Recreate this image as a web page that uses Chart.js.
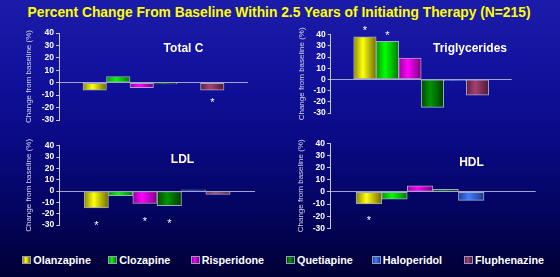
<!DOCTYPE html>
<html><head><meta charset="utf-8">
<script src="https://cdn.jsdelivr.net/npm/chart.js@4"></script>
<style>
html,body{margin:0;padding:0;}
body{width:560px;height:277px;overflow:hidden;position:relative;font-family:"Liberation Sans",Arial,sans-serif;
background:linear-gradient(to bottom,#1c1caa 0%,#12129e 25%,#0a0a86 50%,#040462 75%,#000036 100%);}
.panel{position:absolute;}
.lbl{position:absolute;transform:translate(-50%,-50%);white-space:nowrap;line-height:1;}
.ptitle{color:#ffffff;font-weight:bold;font-size:12px;}
.leg{position:absolute;top:255px;height:9px;display:flex;align-items:center;color:#ffffff;font-weight:bold;font-size:10.8px;white-space:nowrap;}
.leg .box{width:9px;height:8px;margin-right:2px;box-sizing:border-box;border:1px solid #9a9ab8;}
</style></head>
<body>
<div class="lbl" style="left:279px;top:13px;color:#ffff00;font-weight:bold;font-size:13.8px">Percent Change From Baseline Within 2.5 Years of Initiating Therapy (N=215)</div>

<div class="panel" style="left:0;top:20px;width:280px;height:115px"><canvas id="c1" width="280" height="115"></canvas></div>
<div class="panel" style="left:280px;top:20px;width:280px;height:115px"><canvas id="c2" width="280" height="115"></canvas></div>
<div class="panel" style="left:0;top:135px;width:280px;height:110px"><canvas id="c3" width="280" height="110"></canvas></div>
<div class="panel" style="left:280px;top:135px;width:280px;height:110px"><canvas id="c4" width="280" height="110"></canvas></div>

<div class="lbl ptitle" style="left:183.5px;top:48px">Total C</div>
<div class="lbl ptitle" style="left:470px;top:48px">Triglycerides</div>
<div class="lbl ptitle" style="left:182.5px;top:159px">LDL</div>
<div class="lbl ptitle" style="left:471.5px;top:162px">HDL</div>

<div id="legend"></div>

<script>
// ---- data ----
const drugs = ['Olanzapine', 'Clozapine', 'Risperidone', 'Quetiapine', 'Haloperidol', 'Fluphenazine'];
const yTicks = [-30, -20, -10, 0, 10, 20, 30, 40];
const totalC = [-6, 5, -4, -1, 0, -6];
const triglycerides = [38, 34, 19, -25, -1, -14];
const ldl = [-15, -4, -11, -13, 1, -3];
const hdl = [-10, -6, 5, 2, -7, 0];
// significance markers (*) per drug
const totalCSig = [0, 0, 0, 0, 0, 1];
const triglyceridesSig = [1, 1, 0, 0, 0, 0];
const ldlSig = [1, 0, 1, 1, 0, 0];
const hdlSig = [1, 0, 0, 0, 0, 0];

// ---- styles ----
const drugColors = [
  ['#8a8a00', '#ffff10', '#6e6e00'],
  ['#009a00', '#00ff00', '#007a00'],
  ['#9a009a', '#ff00ff', '#7a007a'],
  ['#004a00', '#009400', '#003e00'],
  ['#22409c', '#3c7cff', '#1e3a8e'],
  ['#5e1e40', '#a44272', '#4e1836']
];
const FONT = "'Liberation Sans', Arial, sans-serif";
Chart.defaults.font.family = FONT;

const legendPos = [22.3, 108.3, 190.7, 286, 371.7, 464];
const legend = document.getElementById('legend');
drugs.forEach((d, i) => {
  const c = drugColors[i];
  const it = document.createElement('div');
  it.className = 'leg';
  it.style.left = legendPos[i] + 'px';
  it.innerHTML = '<span class="box" style="background:linear-gradient(to right,' + c[0] + ',' + c[1] + ' 40%,' + c[2] + ')"></span><span>' + d + '</span>';
  legend.appendChild(it);
});

function barFill(c) {
  const cols = drugColors[c.dataIndex] || drugColors[0];
  const chart = c.chart, xs = chart.scales.x;
  if (!xs || c.dataIndex === undefined) return cols[1];
  const cx = xs.getPixelForValue(c.dataIndex);
  const w = Math.abs(xs.getPixelForValue(1) - xs.getPixelForValue(0));
  if (!isFinite(cx) || !isFinite(w)) return cols[1];
  const g = chart.ctx.createLinearGradient(cx - w / 2, 0, cx + w / 2, 0);
  g.addColorStop(0, cols[0]);
  g.addColorStop(0.4, cols[1]);
  g.addColorStop(1, cols[2]);
  return g;
}

const astPlugin = {
  id: 'ast',
  afterDatasetsDraw(chart, args, o) {
    const meta = chart.getDatasetMeta(0);
    const ctx = chart.ctx;
    ctx.save();
    ctx.fillStyle = '#ffffff';
    ctx.font = '11px ' + FONT;
    ctx.textAlign = 'center';
    ctx.textBaseline = 'alphabetic';
    meta.data.forEach((el, i) => {
      if (!o.sig[i]) return;
      const v = chart.data.datasets[0].data[i].y;
      const cy = v >= 0 ? el.y - o.off : el.y + o.off;
      ctx.fillText('*', el.x, cy + 0.57 * 11);
    });
    ctx.restore();
  }
};

function makeChart(id, values, sig, pad, yWidth, off) {
  return new Chart(document.getElementById(id), {
    type: 'bar',
    data: {
      datasets: [{
        data: values.map((v, i) => ({ x: i, y: v })),
        backgroundColor: barFill,
        borderColor: '#a6a6c6',
        borderWidth: 1,
        borderSkipped: false,
        categoryPercentage: 1,
        barPercentage: 1
      }]
    },
    options: {
      responsive: false,
      animation: false,
      devicePixelRatio: 1,
      layout: { padding: pad },
      plugins: { legend: { display: false }, tooltip: { enabled: false }, ast: { sig: sig, off: off } },
      scales: {
        x: {
          type: 'linear', display: false, min: -0.85, max: 5.85,
          afterBuildTicks: s => { s.ticks = drugs.map((_, i) => ({ value: i })); }
        },
        y: {
          min: -30, max: 40,
          afterBuildTicks: s => { s.ticks = yTicks.map(v => ({ value: v })); },
          afterFit: s => { s.width = yWidth; },
          ticks: { color: '#ffffff', font: { size: 8.5, weight: 'bold' }, padding: 2, autoSkip: false },
          grid: {
            color: c => (c.tick && c.tick.value === 0) ? '#a4a4cc' : 'rgba(0,0,0,0)',
            tickColor: '#c8c8d4', tickLength: 3, lineWidth: 1
          },
          border: { display: true, color: '#c8c8d4', width: 1 },
          title: { display: true, text: 'Change from baseline (%)', color: '#d6d6e6', font: { size: 8 }, padding: 0 }
        }
      }
    },
    plugins: [astPlugin]
  });
}

makeChart('c1', totalC, totalCSig, { left: 24, right: 32, top: 13, bottom: 15 }, 35, 10);
makeChart('c2', triglycerides, triglyceridesSig, { left: 16.5, right: 48.3, top: 14.7, bottom: 22 }, 34.2, 9);
makeChart('c3', ldl, ldlSig, { left: 24, right: 25, top: 10.7, bottom: 20 }, 35.3, 15);
makeChart('c4', hdl, hdlSig, { left: 15.8, right: 24.3, top: 8.3, bottom: 16.7 }, 34.2, 14);
</script>
</body></html>
